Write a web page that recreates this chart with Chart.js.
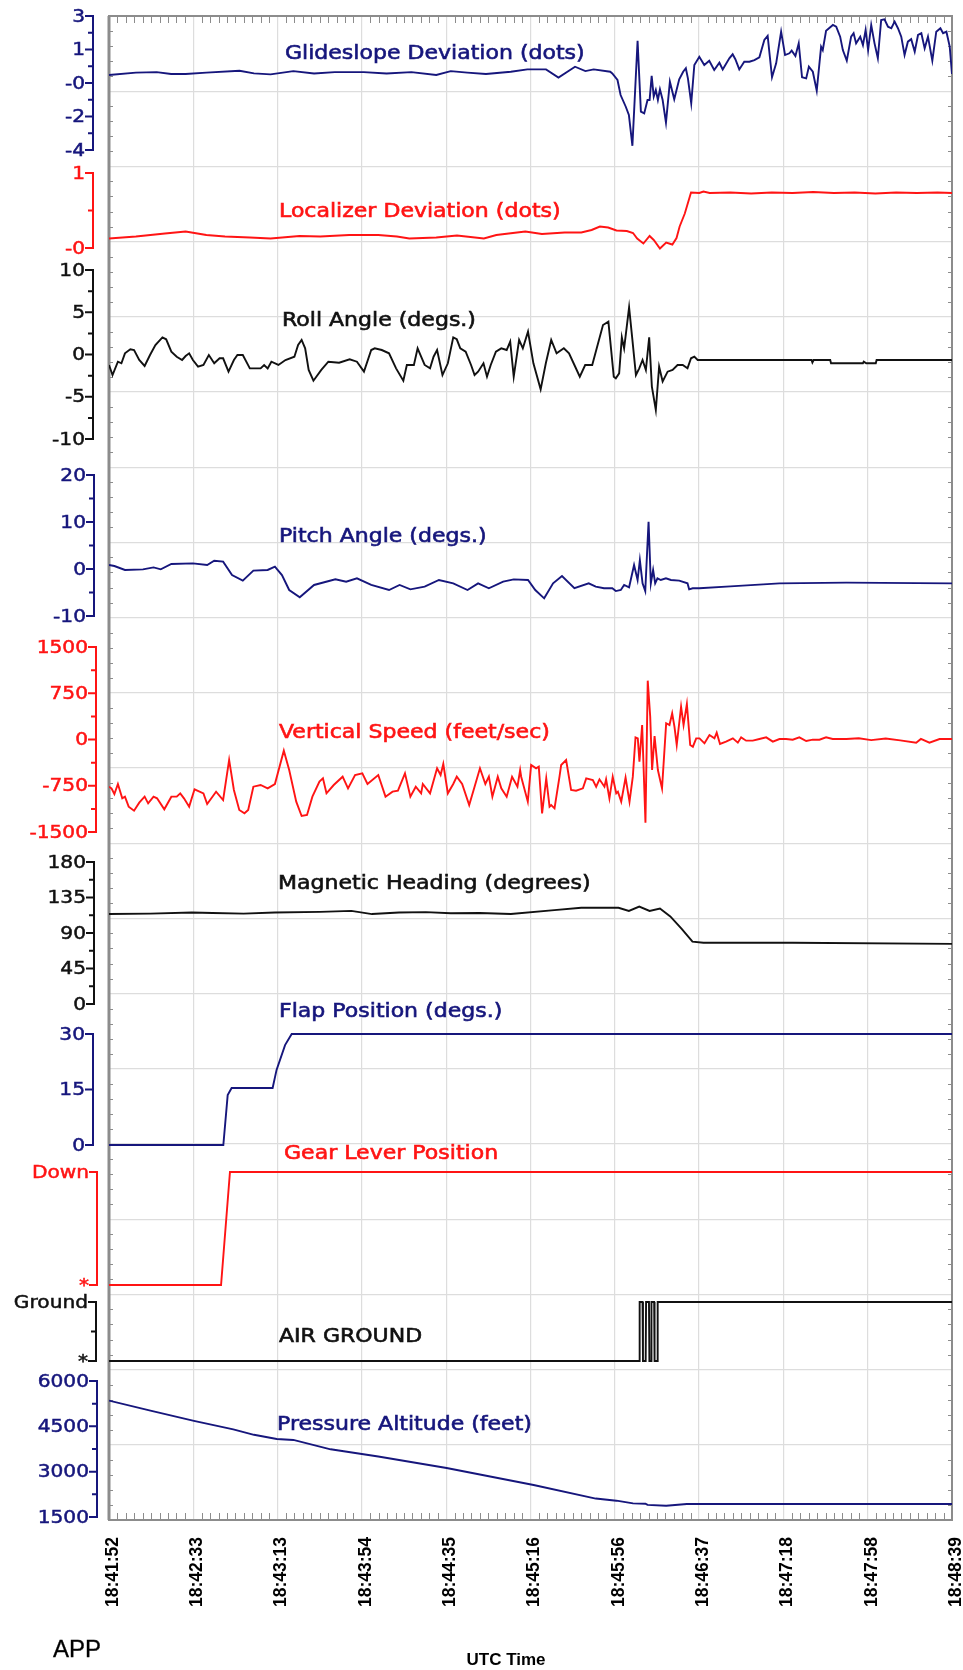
<!DOCTYPE html>
<html>
<head>
<meta charset="utf-8">
<script src="https://cdn.jsdelivr.net/npm/chart.js@4.4.1/dist/chart.umd.min.js"></script>
<style>
html,body{margin:0;padding:0;background:#fff;}
#wrap{position:relative;width:963px;height:1670px;}
</style>
</head>
<body>
<div id="wrap"><canvas id="c"></canvas></div>
<script>
// time axis in seconds after 18:41:52
const timeLabels = ['18:41:52','18:42:33','18:43:13','18:43:54','18:44:35','18:45:16','18:45:56','18:46:37','18:47:18','18:47:58','18:48:39'];
const totalSec = 407;

// [seconds, value]
const glideslope = [[0,-0.08],[13,0.04],[23,0.07],[30,-0.03],[37,-0.03],[47,0.04],[63,0.14],[70,0],[78,-0.05],[89,0.12],[99,0],[109,0.07],[123,0.07],[134,0],[146,0.07],[158,-0.08],[165,0.12],[173,0.04],[182,-0.03],[194,0.09],[202,0.21],[211,0.21],[217,-0.22],[225,0.35],[230,0.12],[234,0.21],[242,0.09],[243,0],[245.5,-0.34],[247,-1.13],[249.5,-1.74],[251,-2.17],[252.7,-3.78],[255.2,1.71],[256.8,-2.0],[258.4,-2.09],[260,-1.39],[261,-1.39],[262,-0.13],[263,-1.21],[264,-0.87],[265,-1.39],[266,-0.83],[267.3,-1.39],[268.9,-2.57],[270.8,-0.43],[272.9,-1.35],[275.3,-0.31],[277.2,0.09],[278.5,0.27],[279.5,-0.26],[281.1,-1.56],[282.6,0.44],[285,0.87],[287.4,0.44],[289.8,0.66],[292.2,0.18],[294.7,0.56],[296.3,0.21],[299.5,0.79],[301.1,1.0],[302.4,0.74],[304.3,0.21],[306.7,0.61],[309.2,0.61],[311.6,0.7],[314,0.84],[316.4,1.75],[318,1.96],[320.1,-0.2],[322.1,0.53],[324.5,2.18],[326.4,0.96],[328.5,1.05],[329.6,1.19],[331.4,0.91],[333,1.57],[334.6,-0.2],[336.6,-0.26],[337.9,0.35],[339.8,0.09],[341.7,-0.9],[343.8,1.4],[344.6,1.22],[346.2,2.23],[349.5,2.53],[351.1,2.44],[353,1.92],[354.3,1.22],[356.2,0.67],[358.3,1.92],[359.5,2.1],[360.7,1.57],[362.7,1.92],[364,1.48],[365.3,2.27],[366.5,1.22],[368,2.53],[369.6,1.57],[371.2,0.79],[372.8,2.79],[374.4,2.83],[376.1,2.44],[377.7,2.36],[379.3,2.71],[380.9,2.36],[382.5,1.92],[384.1,0.96],[385.7,1.66],[387.3,1.79],[389,1.14],[390.6,2.01],[392.2,2.1],[393.8,1.31],[395.4,1.92],[397.5,0.67],[399.4,2.18],[401.4,2.36],[402.7,2.1],[404.3,2.18],[405.9,1.4],[407,-0.03]];

const localizer = [[0,-0.31],[13,-0.27],[27,-0.21],[37,-0.17],[47,-0.24],[56,-0.27],[68,-0.29],[78,-0.31],[92,-0.26],[102,-0.27],[116,-0.24],[130,-0.24],[139,-0.27],[145,-0.31],[158,-0.29],[168,-0.25],[181,-0.31],[187,-0.24],[201,-0.17],[209,-0.22],[220,-0.19],[228,-0.19],[233,-0.14],[237,-0.07],[241,-0.09],[245,-0.15],[250,-0.16],[253,-0.2],[255,-0.31],[258,-0.41],[261,-0.26],[263,-0.34],[266,-0.51],[269,-0.39],[272,-0.43],[274,-0.3],[275.5,-0.07],[278,0.19],[281,0.61],[285,0.6],[287,0.63],[290,0.6],[300,0.61],[310,0.59],[320,0.61],[330,0.6],[340,0.62],[350,0.6],[360,0.61],[370,0.59],[380,0.61],[390,0.6],[400,0.61],[407,0.6]];

const roll = [[0,-1.24],[1.7,-2.43],[4.3,-0.85],[6,-1.04],[7.7,0.14],[10.3,0.61],[12.1,0.53],[14.6,-0.65],[17.2,-1.36],[19.8,-0.06],[22.4,1.12],[25.8,2.03],[27.6,1.8],[30.1,0.34],[32.7,-0.26],[35.3,-0.65],[37,-0.18],[38.7,0.14],[40.5,-0.65],[43,-1.44],[45.6,-1.24],[48.2,-0.06],[50.8,-1.04],[53.4,-0.45],[55.1,-0.45],[57.7,-2.03],[60.3,-0.65],[62,-0.06],[64.6,-0.06],[68,-1.64],[73.2,-1.64],[74.9,-1.24],[76.6,-1.64],[78.4,-0.85],[81.8,-1.24],[85.2,-0.65],[89.5,-0.26],[91.3,1.12],[93,1.72],[94.7,0.73],[96.4,-1.83],[98.7,-3.1],[102.5,-1.83],[105.9,-0.85],[111.1,-0.97],[116.2,-0.57],[119.7,-0.85],[123.1,-2.03],[126.6,0.53],[128.3,0.73],[131.7,0.53],[135.2,0.14],[138.6,-1.64],[142.1,-3.1],[143.8,-1.24],[147.2,-1.24],[149,0.73],[150.7,-0.26],[152.4,-1.24],[155,-1.64],[156.7,-0.26],[158.4,0.53],[161,-2.43],[163.6,-1.04],[166.2,2.03],[167.9,1.8],[169.6,0.73],[172.2,0.34],[174.8,-1.24],[176.5,-2.43],[178.2,-2.03],[180.8,-1.04],[182.5,-2.62],[184.3,-1.24],[186.8,0.34],[189.4,0.73],[192,0.53],[193.7,1.52],[195.4,-2.62],[198,1.72],[199.8,0.73],[202.3,2.7],[204.9,-1.04],[208.4,-4.12],[210.9,-1.04],[213.5,1.72],[216.1,0.14],[219.6,0.73],[222.1,0.14],[224.7,-1.24],[227.3,-2.62],[229.9,-1.24],[233.3,-1.24],[235.9,1.12],[238.5,3.49],[241.1,3.89],[243.7,-2.62],[244.7,-2.82],[246.3,-2.23],[247.6,2.03],[248.7,0.73],[251.1,5.58],[252.7,1.72],[254.4,-2.43],[256,-1.64],[257.6,-0.65],[259.2,-1.83],[260.8,2.03],[262.1,-3.8],[264,-6.57],[265.6,-1.44],[267.3,-3.2],[269.7,-2.03],[272.1,-1.83],[274.5,-1.24],[277,-1.24],[279.3,-1.64],[281,-0.45],[282.6,-0.26],[284.2,-0.65],[339.2,-0.65],[339.6,-0.95],[340.2,-0.65],[348.2,-0.65],[348.6,-1.04],[364,-1.04],[364.4,-0.85],[365.6,-1.04],[370.2,-1.04],[370.6,-0.65],[407,-0.65]];

const pitch = [[0,0.85],[2.6,0.64],[7.7,-0.21],[16.4,-0.07],[21.5,0.35],[25,-0.07],[30.1,1.06],[40.5,1.2],[47.4,0.85],[50.8,1.77],[55.1,1.56],[59.4,-1.28],[64.6,-2.48],[69.7,-0.35],[76.6,-0.21],[80.1,0.5],[83.5,-1.28],[87,-4.47],[92.1,-6.03],[99,-3.4],[109.3,-2.2],[114.5,-2.7],[119.7,-1.99],[126.6,-3.4],[135.2,-4.47],[140.3,-3.4],[145.5,-4.33],[152.4,-3.76],[159.3,-2.34],[166.2,-3.05],[173.1,-4.47],[178.2,-3.05],[183.4,-4.1],[190.3,-2.7],[195.4,-2.2],[202.3,-2.34],[205.8,-4.47],[210.1,-6.24],[214.4,-3.05],[218.7,-1.49],[224.7,-4.1],[231.6,-3.05],[235,-3.76],[239,-4.1],[243,-4.1],[244.7,-4.7],[247.1,-4.47],[248.7,-3.4],[251.1,-3.9],[253.5,0.85],[255.2,-2.34],[256.3,1.9],[257.6,-3.05],[258.9,-4.7],[260.5,10.07],[261.6,-3.05],[262.7,-0.21],[263.7,-3.05],[264.8,-1.99],[266.4,-2.34],[268.9,-1.99],[271.3,-2.34],[275.3,-2.48],[279.3,-3.05],[280.1,-4.33],[281.8,-4.1],[285,-4.1],[300,-3.7],[323.7,-3.05],[356,-2.9],[407,-3.05]];

const vspeed = [[0,-765],[1.2,-792],[2.6,-884],[4.3,-722],[6.4,-954],[7.7,-927],[9.5,-1089],[12.1,-1154],[14.6,-1024],[17.2,-927],[18.9,-1035],[21.5,-927],[23.2,-954],[26.7,-1132],[30.1,-927],[32.7,-927],[34.4,-873],[36.2,-954],[38.7,-1089],[41.3,-808],[45.6,-873],[47.4,-1046],[51.7,-846],[55.1,-981],[58,-332],[60.3,-819],[62.9,-1143],[65.4,-1197],[67.2,-1143],[69.7,-765],[73.2,-738],[76.6,-792],[80.1,-722],[84.4,-181],[87,-495],[90.4,-1008],[93,-1241],[95.6,-1224],[98.2,-927],[101.6,-684],[103.3,-630],[105,-873],[108.5,-738],[112.8,-603],[115.4,-792],[118.8,-576],[122.3,-549],[124.8,-722],[130,-576],[133.5,-927],[136.9,-846],[139.5,-830],[142.9,-549],[145.5,-927],[148.1,-765],[150.7,-873],[151.5,-722],[155,-873],[158.4,-467],[160.1,-576],[161.4,-397],[163.6,-873],[166.2,-722],[167.9,-603],[170.5,-722],[173.9,-1062],[176.5,-765],[179.1,-467],[181.7,-722],[183.4,-603],[185.1,-927],[187.7,-603],[189.4,-792],[192,-927],[194.6,-603],[197.2,-765],[198.5,-495],[199,-603],[202.2,-1008],[203.8,-414],[206.2,-467],[207.5,-441],[209.1,-1197],[211.1,-630],[212.7,-1089],[213.5,-1062],[215.1,-1116],[217.5,-603],[218.3,-414],[220.7,-332],[223.1,-819],[225.5,-830],[228.8,-792],[230.4,-630],[233.6,-657],[235.2,-765],[236.8,-646],[239.2,-765],[240,-646],[241.6,-954],[243.2,-603],[244.9,-873],[245.7,-846],[247.3,-1008],[249.4,-619],[251.3,-1008],[252.9,-603],[254.2,35],[255.3,19],[256.1,-360],[257.4,235],[259,-1351],[260.1,954],[261.3,370],[262.2,-495],[263.4,57],[265,-495],[267,-792],[269,263],[270.6,235],[271.9,425],[273,208],[274.1,-89],[276.2,532],[277.4,235],[279,576],[280.6,-89],[281.9,-117],[283.5,19],[285.1,19],[287.5,-62],[289.9,73],[292.3,19],[293.4,111],[295,-73],[297.9,-35],[301.2,19],[303.6,-51],[305.2,35],[307.6,-19],[310.8,-19],[314,8],[317.3,35],[320.5,-35],[323.7,8],[326.9,8],[330.1,-3],[333.3,35],[336.6,-25],[339.8,-3],[343,-3],[346.2,35],[349.4,8],[356,8],[362,20],[368,-10],[375,15],[382,-15],[389.7,-51],[392,10],[396.1,-51],[401,8],[407,8]];

const heading = [[0,114],[20,114.5],[40,116],[50,115.4],[65,114.5],[80,116],[102,116.8],[117,118],[127,114],[140,116],[153,116.5],[165,115],[179,115.4],[194,114],[215,119],[228,122],[246,122],[251,118],[256,123.5],[261,118],[266,121],[271,111],[276.6,95],[281.7,79],[287,77.6],[330,77.6],[407,76.2]];

const flaps = [[0,0],[55.2,0],[57.3,13.5],[59.2,15.4],[79,15.4],[80.9,20.3],[85,27],[88.2,30],[407,30]];

const gear = [[0,0],[54.1,0],[58.4,1],[407,1]];

const airGround = [[0,0],[256,0],[256.2,1],[257.6,1],[257.8,0],[259.1,0],[259.3,1],[260.7,1],[260.9,0],[261.7,0],[261.9,1],[263.2,1],[263.4,0],[264.7,0],[264.9,1],[407,1]];

const altitude = [[0,5350],[20,5020],[41,4680],[60,4400],[70,4220],[81,4080],[89,4050],[107,3740],[130,3500],[163,3120],[205,2560],[235,2110],[245,2040],[253,1950],[259,1940],[260,1900],[269,1874],[279,1930],[407,1930]];

// left axis tick values and their printed labels
const gsTicks = [3,1.25,-0.5,-2.25,-4], gsTickText = ['3','1','-0','-2','-4'];
const locTicks = [1,-0.5], locTickText = ['1','-0'];
const rollTicks = [10,5,0,-5,-10];
const pitchTicks = [20,10,0,-10];
const vsTicks = [1500,750,0,-750,-1500];
const hdgTicks = [180,135,90,45,0];
const flapTicks = [30,15,0];
const gearTicks = [1,0], gearTickText = ['Down','*'];
const airTicks = [1,0], airTickText = ['Ground','*'];
const altTicks = [6000,4500,3000,1500];

const NAVY = '#16167c', RED = '#ff1414', BLACK = '#111111', FRAME = '#8c8c8c', GRID = '#dddddd';
const AREA_TOP = 16, AREA_BOTTOM = 1520;

// top/bottom = pixel rows of the first and last tick, bx = bracket x, tx/ty = title position
const panels = [
  {id:'yGs', title:'Glideslope Deviation (dots)', color:NAVY, data:glideslope, ticks:gsTicks, text:gsTickText, top:16, bottom:150, minor:1, bx:93, tx:285, ty:59},
  {id:'yLoc', title:'Localizer Deviation (dots)', color:RED, data:localizer, ticks:locTicks, text:locTickText, top:173, bottom:248, minor:1, bx:93, tx:279, ty:217},
  {id:'yRoll', title:'Roll Angle (degs.)', color:BLACK, data:roll, ticks:rollTicks, top:270, bottom:439, minor:1, bx:93, tx:282, ty:326},
  {id:'yPitch', title:'Pitch Angle (degs.)', color:NAVY, data:pitch, ticks:pitchTicks, top:475, bottom:616, minor:1, bx:94, tx:279, ty:542},
  {id:'yVs', title:'Vertical Speed (feet/sec)', color:RED, data:vspeed, ticks:vsTicks, top:647, bottom:832, minor:1, bx:96, tx:279, ty:738},
  {id:'yHdg', title:'Magnetic Heading (degrees)', color:BLACK, data:heading, ticks:hdgTicks, top:862, bottom:1004, minor:1, bx:94, tx:278, ty:889},
  {id:'yFlap', title:'Flap Position (degs.)', color:NAVY, data:flaps, ticks:flapTicks, top:1034, bottom:1145, minor:0, bx:93, tx:279, ty:1017},
  {id:'yGear', title:'Gear Lever Position', color:RED, data:gear, ticks:gearTicks, text:gearTickText, top:1172, bottom:1285, minor:0, bx:97, tx:284, ty:1159},
  {id:'yAir', title:'AIR GROUND', color:BLACK, data:airGround, ticks:airTicks, text:airTickText, top:1302, bottom:1361, minor:1, bx:96, tx:279, ty:1342},
  {id:'yAlt', title:'Pressure Altitude (feet)', color:NAVY, data:altitude, ticks:altTicks, top:1381, bottom:1517, minor:1, bx:97, tx:277, ty:1430}
];

// every panel axis spans the whole plot height; stretch min/max so its own range lands in its band
function panelScale(p) {
  const hi = p.ticks[0], lo = p.ticks[p.ticks.length - 1];
  const upp = (hi - lo) / (p.bottom - p.top);
  return {type:'linear', axis:'y', position:'left', display:false,
    min:lo - (AREA_BOTTOM - p.bottom) * upp, max:hi + (p.top - AREA_TOP) * upp};
}

function txt(ctx, s, x, y, font, color, align, base, sx, weight) {
  ctx.save();
  ctx.translate(x, y);
  ctx.scale(sx, 1);
  ctx.font = font;
  ctx.fillStyle = color;
  ctx.textAlign = align;
  ctx.textBaseline = base;
  ctx.fillText(s, 0, 0);
  if (weight) {
    ctx.strokeStyle = color;
    ctx.lineWidth = weight;
    ctx.strokeText(s, 0, 0);
  }
  ctx.restore();
}

const overlay = {
  id:'overlay',
  beforeDatasetsDraw(chart) {
    const {ctx, chartArea:a, scales} = chart;
    const xs = scales.x, yg = scales.yg;
    const step = totalSec / (timeLabels.length - 1);
    ctx.save();
    ctx.strokeStyle = FRAME;
    ctx.lineWidth = 1;
    ctx.beginPath();
    for (let i = 0; i < timeLabels.length - 1; i++) {
      for (let k = 1; k < 10; k++) {
        const px = Math.round(xs.getPixelForValue(i * step + k * step / 10)) + 0.5;
        ctx.moveTo(px, a.top); ctx.lineTo(px, a.top + 7);
        ctx.moveTo(px, a.bottom); ctx.lineTo(px, a.bottom - 7);
      }
    }
    for (let j = 0; j < 20; j++) {
      for (let k = 1; k < 5; k++) {
        const py = Math.round(yg.getPixelForValue(j + k / 5)) + 0.5;
        ctx.moveTo(a.left, py); ctx.lineTo(a.left + 4, py);
        ctx.moveTo(a.right, py); ctx.lineTo(a.right - 4, py);
      }
    }
    ctx.stroke();
    ctx.lineWidth = 2;
    ctx.strokeRect(a.left, a.top, a.right - a.left, a.bottom - a.top);
    ctx.lineWidth = 3;
    ctx.beginPath(); ctx.moveTo(a.left, a.top); ctx.lineTo(a.left, a.bottom); ctx.stroke();
    ctx.restore();
  },
  afterDatasetsDraw(chart) {
    const {ctx} = chart;
    ctx.save();
    panels.forEach(p => {
      const s = chart.scales[p.id];
      const ys = p.ticks.map(v => s.getPixelForValue(v));
      ctx.strokeStyle = p.color;
      ctx.lineWidth = 2;
      ctx.beginPath();
      ctx.moveTo(p.bx, ys[0]); ctx.lineTo(p.bx, ys[ys.length - 1]);
      ys.forEach(y => { ctx.moveTo(p.bx - 8, y); ctx.lineTo(p.bx + 1, y); });
      for (let i = 0; i < p.ticks.length - 1; i++) {
        for (let k = 1; k <= p.minor; k++) {
          const y = s.getPixelForValue(p.ticks[i] + (p.ticks[i + 1] - p.ticks[i]) * k / (p.minor + 1));
          ctx.moveTo(p.bx - 5, y); ctx.lineTo(p.bx, y);
        }
      }
      ctx.stroke();
      p.ticks.forEach((v, i) => {
        const label = p.text ? p.text[i] : String(v);
        txt(ctx, label, p.bx - 8, ys[i] + 1, '18px "DejaVu Sans"', p.color, 'right', 'middle', 1.12, 0.5);
      });
      txt(ctx, p.title, p.tx, p.ty, '19.5px "DejaVu Sans"', p.color, 'left', 'alphabetic', 1.13, 0.6);
    });
    txt(ctx, 'APP', 53, 1657, '24px "Liberation Sans"', '#000', 'left', 'alphabetic', 1, 0.3);
    txt(ctx, 'UTC Time', 506, 1665, 'bold 17px "Liberation Sans"', '#000', 'center', 'alphabetic', 1, 0);
    ctx.restore();
  }
};

const scales = {
  x: {
    type:'linear', axis:'x', min:0, max:totalSec, position:'bottom',
    afterFit(s) {
      s.height = 1670 - AREA_BOTTOM;
      // rotated labels would otherwise reserve extra room at the sides
      s.paddingLeft = 0;
      s.paddingRight = 0;
    },
    afterBuildTicks(s) { s.ticks = timeLabels.map((_, i) => ({value: i * totalSec / (timeLabels.length - 1)})); },
    grid:{color:GRID, lineWidth:1.2, drawTicks:false},
    border:{display:false},
    ticks:{
      autoSkip:false, minRotation:90, maxRotation:90, padding:17, labelOffset:4, color:'#000',
      font:{family:'"Liberation Sans"', weight:'bold', size:17.5},
      callback:(v, i) => timeLabels[i]
    }
  },
  yg: {
    type:'linear', axis:'y', position:'left', min:0, max:20,
    afterFit(s) { s.width = 0; },
    afterBuildTicks(s) { s.ticks = Array.from({length:21}, (_, i) => ({value:i})); },
    grid:{color:GRID, lineWidth:1.2, drawTicks:false},
    border:{display:false},
    ticks:{display:false}
  }
};
panels.forEach(p => { scales[p.id] = panelScale(p); });

new Chart(document.getElementById('c'), {
  type:'line',
  data:{
    datasets: panels.map(p => ({
      label:p.title,
      data:p.data.map(([x, y]) => ({x, y})),
      xAxisID:'x',
      yAxisID:p.id,
      borderColor:p.color,
      borderWidth:1.9,
      pointRadius:0,
      tension:0,
      fill:false
    }))
  },
  options:{
    responsive:true,
    maintainAspectRatio:false,
    animation:false,
    devicePixelRatio:1,
    layout:{autoPadding:false, padding:{left:109, top:AREA_TOP, right:11, bottom:0}},
    plugins:{legend:{display:false}, tooltip:{enabled:false}},
    scales
  },
  plugins:[overlay]
});
</script>
</body>
</html>
